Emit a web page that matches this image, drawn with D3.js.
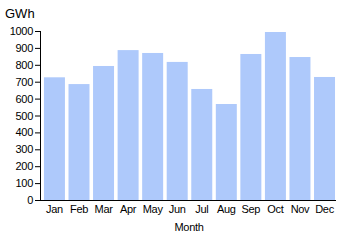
<!DOCTYPE html>
<html><head><meta charset="utf-8">
<script src="https://cdn.jsdelivr.net/npm/d3@7"></script>
<style>body{margin:0;background:#fff}svg{display:block}text{font-family:"Liberation Sans",Arial,sans-serif}</style>
</head><body>
<svg id="c" width="345" height="240"></svg>
<script>
const months = ["Jan","Feb","Mar","Apr","May","Jun","Jul","Aug","Sep","Oct","Nov","Dec"];
const values = [726,686,793,887,870,817,657,568,864,994,846,728];
const yTicks = [0,100,200,300,400,500,600,700,800,900,1000];
const yLabel = "GWh";
const xLabel = "Month";

const svg = d3.select("#c");
const x = d3.scaleBand().domain(months).range([41,336]).paddingInner(0.145).paddingOuter(0.08).align(0.75);
const y = d3.scaleLinear().domain([0,1000]).range([200,31]);

svg.append("g").selectAll("rect").data(values).join("rect")
  .attr("x",(d,i)=>x(months[i])).attr("width",x.bandwidth())
  .attr("y",d=>y(d)).attr("height",d=>y(0)-y(d))
  .attr("fill","#aec9fb");

const ya = svg.append("g").attr("transform","translate(40,0)")
  .call(d3.axisLeft(y).tickValues(yTicks).tickFormat(d3.format("d")).tickSize(5).tickPadding(2));
ya.select(".domain").attr("stroke","#000").attr("d","M0.5,31V200.5");
ya.selectAll("text").attr("font-size",11).attr("fill","#000").attr("letter-spacing","-0.3");

const xa = svg.append("g").attr("transform","translate(0,200)")
  .call(d3.axisBottom(x).tickSize(0).tickPadding(5));
xa.select(".domain").attr("stroke","#000").attr("d","M40,0.5H336");
xa.selectAll("text").attr("font-size",11).attr("fill","#000").attr("letter-spacing","-0.3");

svg.append("text").attr("x",5).attr("y",18).attr("font-size",13).text(yLabel);
svg.append("text").attr("x",189).attr("y",231).attr("font-size",11).attr("text-anchor","middle").attr("letter-spacing","-0.3").text(xLabel);
</script>
</body></html>
